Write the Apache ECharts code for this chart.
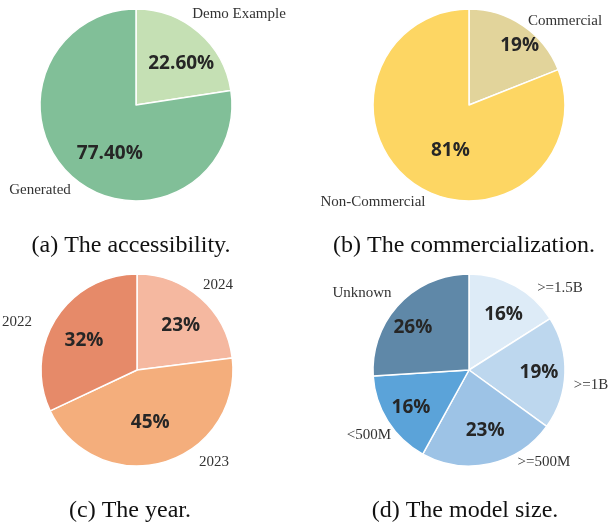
<!DOCTYPE html>
<html>
<head>
<meta charset="utf-8">
<script src="https://cdn.jsdelivr.net/npm/echarts@6/dist/echarts.min.js"></script>
<style>
html,body{margin:0;padding:0;background:#fff;}
#chart{width:610px;height:523px;}
</style>
</head>
<body>
<div id="chart"></div>
<script>
// ---- data ----
const accessCats = ['Demo Example', 'Generated'];
const accessVals = [22.6, 77.4];
const commCats = ['Commercial', 'Non-Commercial'];
const commVals = [19, 81];
const yearCats = ['2024', '2023', '2022'];
const yearVals = [23, 45, 32];
const sizeCats = ['>=1.5B', '>=1B', '>=500M', '<500M', 'Unknown'];
const sizeVals = [16, 19, 23, 16, 26];
const captions = ['(a) The accessibility.', '(b) The commercialization.', '(c) The year.', '(d) The model size.'];

// ---- styling / layout ----
const panels = [
  { cats: accessCats, vals: accessVals, dec: 2, center: [136, 105],
    colors: ['#C5E0B4', '#81BF98'],
    inOff: [[12, -3], [7, 10]],
    outPos: [[239, 14], [40, 190]], cap: [131, 246] },
  { cats: commCats, vals: commVals, dec: 0, center: [469, 105],
    colors: ['#E2D49B', '#FDD663'],
    inOff: [[22, -17], [10, 3]],
    outPos: [[565, 21], [373, 202]], cap: [464, 246] },
  { cats: yearCats, vals: yearVals, dec: 0, center: [137, 370],
    colors: ['#F5B8A0', '#F4AE7C', '#E68A69'],
    inOff: [[10, -6], [-1, 4], [-10, -2]],
    outPos: [[218, 285], [214, 462], [17, 322]], cap: [130, 511] },
  { cats: sizeCats, vals: sizeVals, dec: 0, center: [469, 370],
    colors: ['#DDEBF7', '#BDD7EE', '#9DC3E6', '#5BA3D9', '#5F88A8'],
    inOff: [[10, -11], [19, 1], [5, 11], [-15, 10], [-19, -7]],
    outPos: [[560, 288], [591, 385], [544, 462], [369, 435], [362, 293]], cap: [465, 511] }
];
const R = 96;
const serif = '"Liberation Serif", "Times New Roman", serif';

const series = [];
const titles = [];
panels.forEach((p, pi) => {
  const data = p.cats.map((c, i) => ({ name: c, value: p.vals[i], itemStyle: { color: p.colors[i] } }));
  series.push({
    type: 'pie', center: p.center, radius: R, startAngle: 90, clockwise: true,
    avoidLabelOverlap: false, silent: true, emphasis: { disabled: true },
    itemStyle: { borderColor: '#fff', borderWidth: 1.5 },
    label: {
      show: true, position: 'inside',
      fontFamily: '"Open Sans", sans-serif', fontWeight: 'bold', fontSize: 19, color: '#262626',
      formatter: (q) => q.value.toFixed(p.dec) + '%'
    },
    labelLine: { show: false },
    labelLayout: (q) => ({ dx: p.inOff[q.dataIndex][0], dy: p.inOff[q.dataIndex][1] }),
    data: data
  });
  series.push({
    type: 'pie', center: p.center, radius: R, startAngle: 90, clockwise: true,
    avoidLabelOverlap: false, silent: true, emphasis: { disabled: true },
    itemStyle: { color: 'rgba(0,0,0,0)', borderWidth: 0 },
    label: {
      show: true, position: 'outside', fontFamily: serif, fontSize: 15, color: '#333',
      formatter: '{b}'
    },
    labelLine: { show: false },
    labelLayout: (q) => ({ x: p.outPos[q.dataIndex][0], y: p.outPos[q.dataIndex][1], align: 'center', verticalAlign: 'middle' }),
    data: p.cats.map((c, i) => ({ name: c, value: p.vals[i] })),
    z: 3
  });
  titles.push({
    text: captions[pi], left: p.cap[0], top: p.cap[1], textAlign: 'center', textVerticalAlign: 'middle', padding: 0,
    textStyle: { fontFamily: serif, fontSize: 24, fontWeight: 'normal', color: '#111' }
  });
});

const chart = echarts.init(document.getElementById('chart'), null, { renderer: 'canvas' });
chart.setOption({
  animation: false,
  backgroundColor: '#fff',
  title: titles,
  series: series
});
</script>
</body>
</html>
